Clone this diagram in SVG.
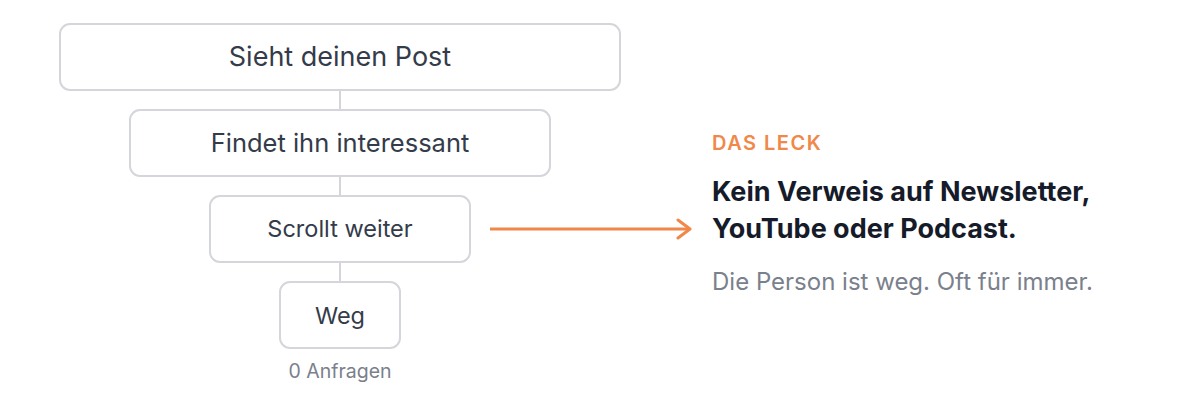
<svg xmlns="http://www.w3.org/2000/svg" width="1200" height="400" viewBox="0 0 1200 400">
<style>
.box{fill:#fff;stroke:#d4d6db;stroke-width:2}
.t{font-family:Inter,"Liberation Sans",sans-serif;fill:#343b4a;text-anchor:middle}
.r{font-family:Inter,"Liberation Sans",sans-serif}
</style>
<defs><marker id="ah" markerWidth="18" markerHeight="22" refX="15" refY="11" orient="auto" markerUnits="userSpaceOnUse"><path d="M3,2 L15,11 L3,20" fill="none" stroke="#f0884a" stroke-width="3" stroke-linecap="round" stroke-linejoin="round"/></marker></defs>
<rect width="1200" height="400" fill="#fff"/>
<g id="connectors" stroke="#d4d6db" stroke-width="2">
<line x1="340" y1="90" x2="340" y2="110"/>
<line x1="340" y1="176" x2="340" y2="196"/>
<line x1="340" y1="262" x2="340" y2="282"/>
<line x1="490" y1="229" x2="690" y2="229" stroke="#f0884a" stroke-width="3" marker-end="url(#ah)"/>
</g>
<g id="n1"><rect class="box" x="60" y="24" width="560" height="66" rx="10"/><text class="t" x="340" y="66" font-size="27">Sieht deinen Post</text></g>
<g id="n2"><rect class="box" x="130" y="110" width="420" height="66" rx="10"/><text class="t" x="340" y="152" font-size="25.5">Findet ihn interessant</text></g>
<g id="n3"><rect class="box" x="210" y="196" width="260" height="66" rx="10"/><text class="t" x="340" y="237" font-size="23.5">Scrollt weiter</text></g>
<g id="n4"><rect class="box" x="280" y="282" width="120" height="66" rx="10"/><text class="t" x="340" y="324" font-size="23.5">Weg</text>
<text class="t" x="340" y="378" font-size="19.5" style="fill:#7a808c">0 Anfragen</text></g>
<g id="leak">
<text class="r" x="712" y="150" font-size="20" font-weight="600" fill="#f0884a" letter-spacing="1.5">DAS LECK</text>
<text class="r" x="712" y="201" font-size="27" font-weight="700" fill="#161b2a">Kein Verweis auf Newsletter,</text>
<text class="r" x="712" y="238" font-size="27" font-weight="700" fill="#161b2a">YouTube oder Podcast.</text>
<text class="r" x="712" y="290" font-size="24" fill="#7a808c">Die Person ist weg. Oft für immer.</text>
</g>
</svg>
